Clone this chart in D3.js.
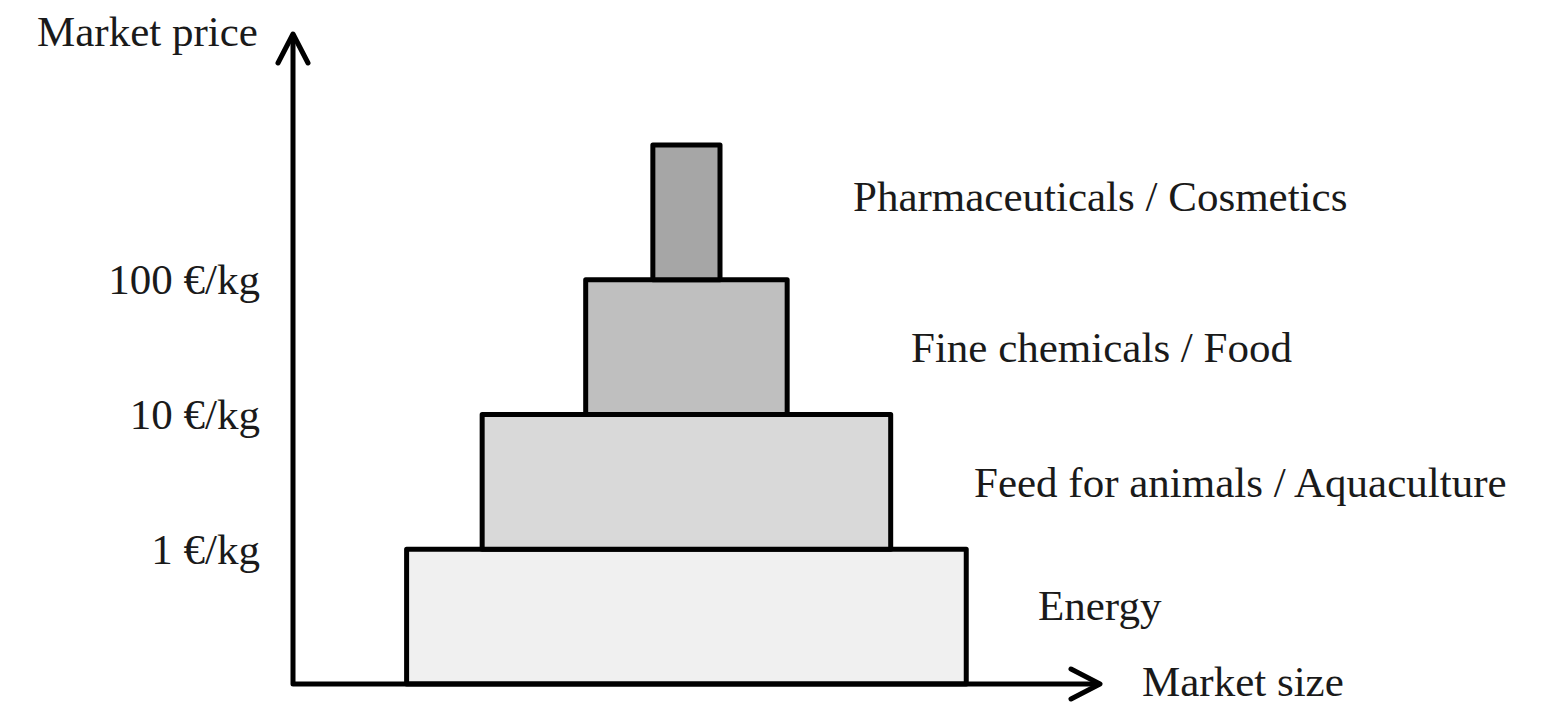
<!DOCTYPE html>
<html>
<head>
<meta charset="utf-8">
<script src="https://cdn.jsdelivr.net/npm/d3@7"></script>
<style>
  body { margin: 0; background: #fff; }
  svg text { font-family: "Liberation Serif", "Times New Roman", serif; font-size: 43px; fill: #1a1a1a; }
</style>
</head>
<body>
<svg class="pyramid" width="1557" height="705"></svg>
<script>
// Market segments, bottom to top
const categories = ['Energy', 'Feed for animals / Aquaculture', 'Fine chemicals / Food', 'Pharmaceuticals / Cosmetics'];
const priceLow = [0.1, 1, 10, 100];       // €/kg, bottom of each step
const priceHigh = [1, 10, 100, 1000];     // €/kg, top of each step
const marketSize = [100, 73, 36, 12];     // relative market size (width of step)
const priceTicks = [1, 10, 100];
const priceTickLabels = ['1 €/kg', '10 €/kg', '100 €/kg'];

// Styles / layout
const fills = ['#f0f0f0', '#d9d9d9', '#bfbfbf', '#a6a6a6'];
const labelX = [1038, 974, 911, 853];
const labelNudge = [-10, 1, 1, -15];
const strokeW = 5;

const svg = d3.select('svg.pyramid');

const y = d3.scaleLog() // Price axis, one decade per step
  .domain([0.1, 1000])
  .range([684, 145]);

const x = d3.scaleLinear() // Market size axis, centred on the pyramid
  .domain([-70.3, 73.9])
  .range([293, 1100]);

const color = d3.scaleOrdinal().domain(categories).range(fills);

const segments = categories.map((c, i) => ({
  name: c,
  low: priceLow[i],
  high: priceHigh[i],
  size: marketSize[i],
  i: i
}));

// Steps of the pyramid
svg.append('g')
  .selectAll('rect')
  .data(segments)
  .enter()
  .append('rect')
  .attr('x', d => x(-d.size / 2))
  .attr('width', d => x(d.size / 2) - x(-d.size / 2))
  .attr('y', d => y(d.high))
  .attr('height', d => y(d.low) - y(d.high))
  .attr('fill', d => color(d.name))
  .attr('stroke', '#000')
  .attr('stroke-width', strokeW)
  .attr('stroke-linejoin', 'round');

// Segment labels to the right
svg.append('g')
  .selectAll('text')
  .data(segments)
  .enter()
  .append('text')
  .attr('x', d => labelX[d.i])
  .attr('y', d => y(Math.sqrt(d.low * d.high)) + labelNudge[d.i])
  .attr('dy', '0.32em')
  .text(d => d.name);

// Price tick labels (no tick marks, no domain line)
const yAxis = d3.axisLeft(y)
  .tickValues(priceTicks)
  .tickSize(0)
  .tickPadding(33)
  .tickFormat((d, i) => priceTickLabels[i]);

svg.append('g')
  .attr('transform', `translate(${x.range()[0]},0)`)
  .call(yAxis)
  .call(g => g.select('.domain').remove())
  .call(g => g.selectAll('text')
    .attr('fill', '#1a1a1a')
    .style('font-family', '"Liberation Serif", "Times New Roman", serif')
    .style('font-size', '43px'));

// Axis lines with open arrowheads
const x0 = x.range()[0];
const y0 = y.range()[0];
const yTop = 34;
const xEnd = x.range()[1];
const head = 15, back = 29;

const axes = svg.append('g')
  .attr('fill', 'none')
  .attr('stroke', '#000')
  .attr('stroke-width', strokeW)
  .attr('stroke-linecap', 'round')
  .attr('stroke-linejoin', 'round');

axes.append('path')
  .attr('d', d3.line()([[x0, yTop], [x0, y0], [xEnd, y0]]))
  .attr('stroke-linecap', 'butt');

axes.append('path')
  .attr('d', d3.line()([[x0 - head, yTop + back], [x0, yTop], [x0 + head, yTop + back]]));

axes.append('path')
  .attr('d', d3.line()([[xEnd - back, y0 - head], [xEnd, y0], [xEnd - back, y0 + head]]));

// Axis titles
svg.append('text')
  .attr('x', 37)
  .attr('y', 46)
  .text('Market price');

svg.append('text')
  .attr('x', 1142)
  .attr('y', 696)
  .text('Market size');
</script>
</body>
</html>
